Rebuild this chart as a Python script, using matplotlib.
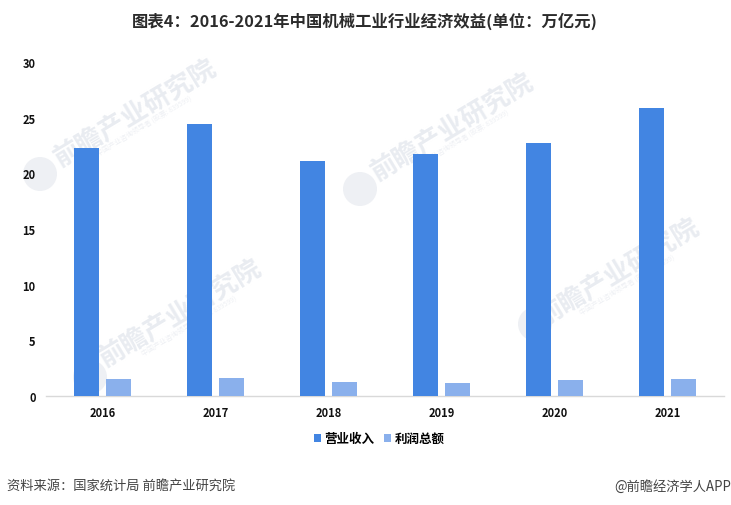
import matplotlib
matplotlib.use("Agg")
from matplotlib import pyplot as plt
from matplotlib.patches import Circle
import numpy as np

plt.rcParams['font.family'] = ['Noto Sans CJK SC', 'DejaVu Sans']

years = ['2016', '2017', '2018', '2019', '2020', '2021']
revenue = [22.3, 24.4, 21.1, 21.7, 22.7, 25.9]
profit = [1.5, 1.6, 1.3, 1.2, 1.4, 1.5]
yticks = [0, 5, 10, 15, 20, 25, 30]
W, H = 731, 506

fig = plt.figure(figsize=(W / 100, H / 100), dpi=100, facecolor='white')
ax = fig.add_axes([46 / W, 1 - 397 / H, 678 / W, 334 / H])

x = np.arange(len(years))
ax.bar(x - 0.142, revenue, 0.222, color='#4285E2', label='营业收入', zorder=3)
ax.bar(x + 0.142, profit, 0.222, color='#8AB0EC', label='利润总额', zorder=3)
ax.set_xlim(-0.5, 5.5)
ax.set_ylim(0, 30)
ax.set_xticks(x, years)
ax.set_yticks(yticks)
ax.tick_params(length=0, labelsize=8)
ax.tick_params(axis='x', pad=7.5)
ax.tick_params(axis='y', pad=7.5)
for lab in ax.get_xticklabels() + ax.get_yticklabels():
    lab.set_fontweight('bold')
    lab.set_color('#111111')
for s in ['top', 'right', 'left']:
    ax.spines[s].set_visible(False)
ax.spines['bottom'].set_color('#d9d9d9')
ax.spines['bottom'].set_linewidth(1)
ax.patch.set_alpha(0)

# 水印
bg = fig.add_axes([0, 0, 1, 1], zorder=-1)
bg.set_xlim(0, W)
bg.set_ylim(H, 0)
bg.axis('off')
for cx, cy, lx, ly in [(135, 113, 40, 175), (452, 127, 360, 190),
                       (180, 313, 90, 378), (618, 272, 535, 325)]:
    bg.text(cx, cy, '前瞻产业研究院', fontsize=19, fontweight='bold', color='#e9ecf1',
            rotation=31, ha='center', va='center', rotation_mode='anchor')
    bg.text(cx + 9, cy + 13, '中国产业咨询领导者 (股票: 839599)', fontsize=5, color='#eef0f4',
            rotation=31, ha='center', va='center', rotation_mode='anchor')
    bg.add_patch(Circle((lx, ly), 17, color='#eef0f4', lw=0))

fig.text(365 / W, 1 - 21 / H, '图表4：2016-2021年中国机械工业行业经济效益(单位：万亿元)',
         fontsize=11.75, fontweight='bold', color='#2b2b2b', ha='center', va='center')
fig.legend(loc='center', bbox_to_anchor=(379 / W, 1 - 439.5 / H), ncol=2, frameon=False,
           prop={'size': 9, 'weight': 'bold'}, handlelength=0.55, handleheight=0.6,
           handletextpad=0.3, columnspacing=0.75)
fig.text(7 / W, 1 - 486.5 / H, '资料来源：国家统计局 前瞻产业研究院', fontsize=9.55,
         color='#444444', ha='left', va='center')
fig.text(731 / W, 1 - 486.5 / H, '@前瞻经济学人APP', fontsize=9.55,
         color='#444444', ha='right', va='center')

fig.savefig('out.png', dpi=100)
